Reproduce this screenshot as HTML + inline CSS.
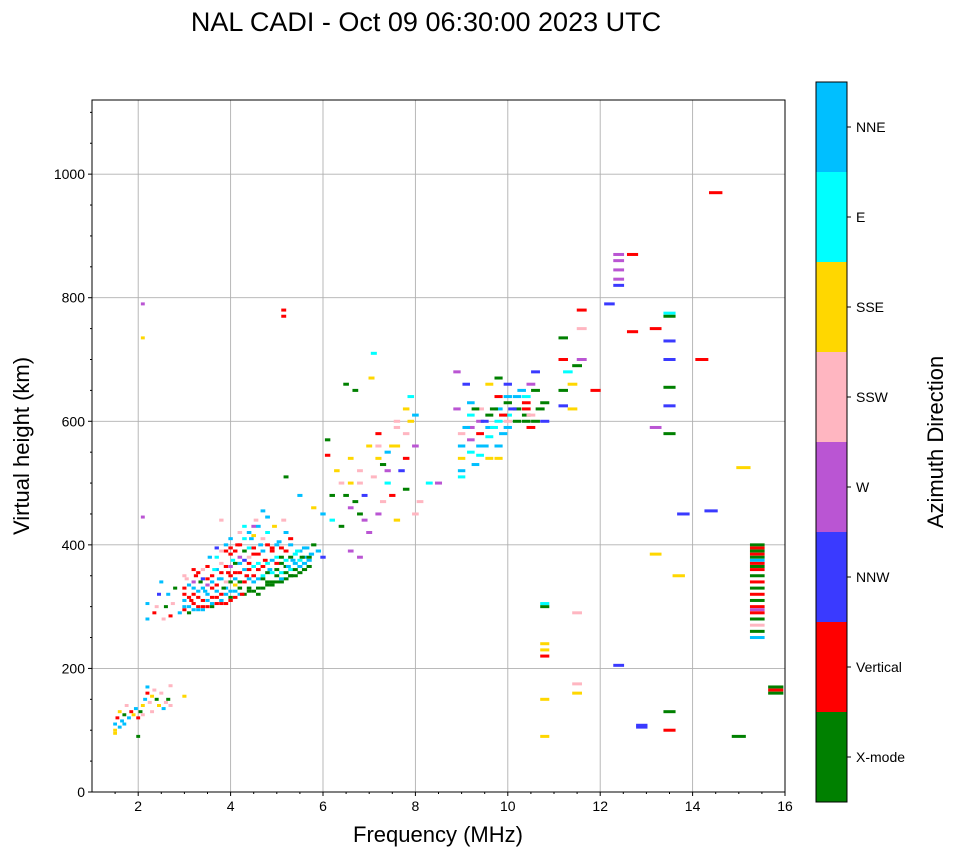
<!DOCTYPE html>
<html><head><meta charset="utf-8"><style>
body{margin:0;background:#fff;font-family:"Liberation Sans",sans-serif;}
svg text{font-family:"Liberation Sans",sans-serif;}
</style></head><body>
<svg id="chart" width="958" height="857" xmlns="http://www.w3.org/2000/svg"></svg>
<script>
const xTicks=[2,4,6,8,10,12,14,16];
const yTicks=[0,200,400,600,800,1000];
const dirNames=["X-mode","Vertical","NNW","W","SSW","SSE","E","NNE"];
const dirColors=["#008000","#ff0000","#3a3aff","#ba55d3","#ffb6c1","#ffd700","#00ffff","#00bfff"];
const freqs=[1.5,1.5,1.55,1.6,1.65,1.7,1.75,1.8,1.85,1.9,1.95,2.0,2.05,2.1,2.15,2.2,2.2,2.25,2.3,2.35,2.4,2.45,2.5,2.55,2.6,2.65,2.7,1.5,1.6,2.0,1.7,2.3,2.1,3.0,2.7,
2.2,2.2,2.35,2.4,2.45,2.5,2.55,2.6,2.65,2.7,2.75,2.8,2.9,3.0,3.0,3.05,3.1,3.15,3.2,3.25,3.3,3.3,3.35,3.4,3.4,3.45,3.5,3.5,3.55,3.6,3.6,3.65,3.7,3.7,3.75,3.8,3.8,3.85,3.9,3.9,3.95,4.0,4.0,4.0,4.05,4.1,4.1,4.15,4.2,4.2,4.25,4.3,4.3,4.35,4.4,4.4,4.45,4.5,4.5,4.55,4.6,4.6,4.65,4.7,4.7,4.75,4.8,4.8,4.85,4.9,4.9,4.95,5.0,5.0,5.05,5.1,5.1,5.15,5.2,5.2,5.25,5.3,5.3,5.35,5.4,5.45,5.5,5.55,5.6,5.65,5.7,5.75,5.8,5.9,6.0,5.5,5.8,5.2,4.5,4.2,3.2,3.8,4.0,4.4,
6.0,6.1,6.1,6.2,6.2,6.3,6.4,6.4,6.5,6.5,6.6,6.6,6.7,6.7,6.8,6.8,6.9,6.9,7.0,7.0,7.05,7.1,7.1,7.2,7.2,7.3,7.3,7.4,7.5,7.5,7.6,7.6,7.7,7.8,7.8,7.9,7.9,8.0,8.0,8.0,8.1,8.3,8.5,
8.9,8.9,9.0,9.0,9.0,9.1,9.1,9.2,9.2,9.3,9.3,9.4,9.5,9.5,9.6,9.6,9.7,9.7,9.8,9.8,9.9,9.9,10.0,10.0,10.1,10.2,10.3,10.4,10.4,10.5,10.5,10.5,10.6,10.7,10.8,10.8,
11.2,11.2,11.2,11.2,11.3,11.4,11.4,11.5,11.6,11.6,11.6,11.9,12.2,12.4,12.4,12.4,12.4,12.4,12.7,12.7,13.2,13.2,13.5,13.5,13.5,13.5,13.5,13.5,13.5,14.2,14.5,14.4,13.8,15.1,13.2,13.7,12.4,12.9,12.9,13.5,13.5,15.0,15.8,15.8,15.8,10.8,10.8,10.8,10.8,10.8,10.8,10.8,11.5,11.5,11.5,2.1,2.1,2.1,5.15,5.15,
15.4,15.4,15.4,15.4,15.4,15.4,15.4,15.4,15.4,15.4,15.4,15.4,15.4,15.4,15.4,15.4,15.4,15.4,15.4,15.4,15.4];
const heights=[100,110,120,130,115,125,140,120,130,125,135,120,130,140,150,160,170,145,155,165,150,140,160,135,145,150,140,95,105,90,110,130,125,155,172,
280,305,290,300,320,340,280,300,320,285,305,330,290,300,320,345,290,310,330,350,295,315,340,300,360,325,310,345,380,300,330,360,315,395,345,305,370,330,320,390,355,310,340,410,375,325,355,400,340,370,320,390,430,350,330,370,410,340,385,440,320,360,400,345,455,375,335,420,360,390,340,430,350,370,405,345,380,440,355,390,365,350,410,375,360,390,365,380,370,395,380,385,400,390,380,480,460,510,430,420,360,440,395,395,
450,545,570,480,440,520,430,500,480,660,390,540,470,650,380,520,480,440,560,420,670,510,710,450,580,530,470,550,560,480,600,440,520,580,490,640,600,560,450,610,470,500,500,
680,620,540,520,510,590,660,570,550,620,530,580,560,600,660,540,620,590,670,560,610,580,640,600,620,600,650,630,600,660,590,610,680,620,600,630,
735,700,650,625,680,620,660,690,780,750,700,650,790,870,860,845,830,820,870,745,750,590,775,770,730,700,655,625,580,700,970,455,450,525,385,350,205,105,108,100,130,90,170,165,160,90,150,220,230,240,300,305,175,160,290,790,735,445,780,770,
400,395,390,385,380,375,370,365,360,350,340,330,320,310,300,295,290,280,270,260,250];
const dirs=[5,7,1,5,7,0,4,7,1,5,7,1,0,5,7,1,7,4,5,4,0,5,4,7,4,0,4,5,7,0,7,4,4,5,4,
7,7,1,4,2,7,4,0,7,1,4,0,7,7,1,4,0,1,7,1,7,1,0,1,4,7,7,1,7,0,1,6,1,2,7,1,4,0,7,1,1,1,0,7,6,7,1,1,0,7,1,0,6,1,0,1,7,7,1,4,0,1,7,0,7,1,0,6,7,1,0,5,0,1,7,7,0,4,0,1,7,0,1,7,0,6,7,0,7,7,0,7,0,7,2,7,5,0,3,4,1,4,1,6,
7,1,0,0,6,5,0,4,0,0,3,5,0,0,3,4,2,3,5,3,5,4,6,3,1,0,4,7,5,1,4,5,2,4,0,6,5,3,4,7,4,6,3,
3,3,5,7,6,7,2,3,6,0,7,1,7,2,5,5,0,6,0,7,1,7,7,4,2,0,7,1,0,3,1,4,2,0,2,0,
0,1,0,2,6,5,5,0,1,4,3,1,2,3,3,3,3,2,1,1,1,3,6,0,2,2,0,2,0,1,1,2,2,5,5,5,2,2,2,1,0,0,0,1,0,5,5,1,5,5,0,6,4,5,4,3,5,3,1,1,
0,1,0,1,0,7,1,0,1,0,1,0,1,0,1,3,1,0,4,0,7];
const freqs2=[3.0,3.0,3.0,3.0,3.1,3.1,3.1,3.2,3.2,3.2,3.2,3.3,3.3,3.3,3.4,3.4,3.4,3.4,3.5,3.5,3.5,3.5,3.6,3.6,3.6,3.6,3.7,3.7,3.7,3.7,3.7,3.8,3.8,3.8,3.8,3.8,3.9,3.9,3.9,3.9,3.9,4.0,4.0,4.0,4.0,4.0,4.1,4.1,4.1,4.1,4.1,4.2,4.2,4.2,4.2,4.2,4.3,4.3,4.3,4.3,4.3,4.4,4.4,4.4,4.4,4.4,4.5,4.5,4.5,4.5,4.5,4.6,4.6,4.6,4.6,4.6,4.7,4.7,4.7,4.7,4.7,4.8,4.8,4.8,4.8,4.8,4.9,4.9,4.9,4.9,5.0,5.0,5.0,5.0,5.1,5.1,5.1,5.1,5.2,5.2,5.2,5.2,5.3,5.3,5.3,5.3,5.4,5.4,5.4,5.5,5.5,5.5,5.6,5.6,5.6,5.7,5.7,
9.0,9.0,9.2,9.2,9.2,9.4,9.4,9.4,9.4,9.6,9.6,9.6,9.8,9.8,9.8,9.8,10.0,10.0,10.0,10.0,10.2,10.2,10.4,10.4,10.4,10.6,10.6,
7.2,7.2,7.4,7.4,7.6,7.6,7.8,7.8,6.6,6.6,6.8,6.8];
const heights2=[295,310,330,350,300,315,335,295,305,320,340,300,325,355,295,310,330,345,300,320,335,365,305,315,340,350,305,325,335,360,380,310,320,345,355,390,305,330,340,365,400,315,325,350,365,385,315,335,345,370,390,320,330,355,380,400,320,340,360,375,410,325,345,360,380,420,325,350,365,395,415,330,345,370,385,430,330,350,365,390,410,340,355,370,400,445,335,355,375,395,340,360,380,400,340,355,370,395,345,365,375,420,350,360,380,400,350,370,385,355,375,390,360,380,395,365,375,
560,580,590,610,630,545,560,600,620,575,590,610,540,600,620,640,590,610,630,660,620,640,610,620,640,600,650,
540,560,500,520,560,590,540,620,460,500,450,500];
const dirs2=[1,7,1,4,7,1,7,7,1,1,3,1,7,1,7,1,7,2,1,7,3,1,7,1,7,1,1,7,1,7,6,7,1,7,1,4,1,7,4,1,7,0,7,1,3,1,1,5,7,0,1,7,0,1,3,1,0,1,7,2,6,0,7,1,4,7,0,1,6,1,5,0,7,6,1,7,0,6,1,7,4,0,0,6,1,7,0,6,7,1,0,0,6,7,0,6,0,1,0,0,6,7,0,6,0,7,0,7,6,0,6,7,0,7,7,0,7,
7,4,3,6,7,6,7,3,4,6,7,0,5,6,7,1,7,6,0,2,0,7,0,1,6,0,0,
5,4,6,3,5,4,1,5,3,5,0,4];

const NS="http://www.w3.org/2000/svg";
const svg=document.getElementById('chart');
const L=92,R=785,T=100,B=792;
const xMin=1,xMax=16,yMin=0,yMax=1120;
function xs(v){return L+(v-xMin)/(xMax-xMin)*(R-L);}
function ys(v){return B-(v-yMin)/(yMax-yMin)*(B-T);}
function mk(tag,attrs,parent){const e=document.createElementNS(NS,tag);for(const k in attrs)e.setAttribute(k,attrs[k]);(parent||svg).appendChild(e);return e;}

const title=mk('text',{x:426,y:31,'text-anchor':'middle','font-size':27,fill:'#000'});
title.textContent='NAL CADI - Oct 09 06:30:00 2023 UTC';



const grid=mk('g',{});


xTicks.forEach(t=>{if(t<xMax)mk('line',{x1:xs(t),x2:xs(t),y1:T,y2:B,stroke:'#b0b0b0','stroke-width':0.9},grid);});
yTicks.forEach(t=>{if(t>yMin)mk('line',{x1:L,x2:R,y1:ys(t),y2:ys(t),stroke:'#b0b0b0','stroke-width':0.9},grid);});

const marks=mk('g',{});


function drawSet(F,H,D){
  for(let i=0;i<F.length;i++){
    const f=F[i];
    const wM=0.08+0.001*f*f;
    const r=mk('rect',{x:xs(f-wM/2),y:ys(H[i])-1.5,width:xs(f+wM/2)-xs(f-wM/2),height:3,fill:dirColors[D[i]]},marks);
    
    
  }
}
drawSet(freqs2,heights2,dirs2);
drawSet(freqs,heights,dirs);

const frame=mk('rect',{x:L,y:T,width:R-L,height:B-T,fill:'none',stroke:'#000','stroke-width':1});



const xa=mk('g',{});


for(let m=1.5;m<xMax;m+=0.5){if(m%2!==0)mk('line',{x1:xs(m),x2:xs(m),y1:B,y2:B+2,stroke:'#000'},xa);}
xTicks.forEach(t=>{mk('line',{x1:xs(t),x2:xs(t),y1:B,y2:B+4,stroke:'#000'},xa);const tx=mk('text',{x:xs(t),y:B+19,'text-anchor':'middle','font-size':14},xa);tx.textContent=t;});
const xl=mk('text',{x:438,y:842,'text-anchor':'middle','font-size':22});
xl.textContent='Frequency (MHz)';



const ya=mk('g',{});


for(let m=50;m<yMax;m+=50){if(m%200!==0)mk('line',{x1:L-2,x2:L,y1:ys(m),y2:ys(m),stroke:'#000'},ya);}
yTicks.forEach(t=>{mk('line',{x1:L-4,x2:L,y1:ys(t),y2:ys(t),stroke:'#000'},ya);const tx=mk('text',{x:L-7,y:ys(t)+5,'text-anchor':'end','font-size':14},ya);tx.textContent=t;});
const yl=mk('text',{x:29,y:446,'text-anchor':'middle','font-size':22,transform:'rotate(-90 29 446)'});
yl.textContent='Virtual height (km)';



const cb=mk('g',{});


const cT=82,cB=802,cL=816,cW=31,seg=(cB-cT)/dirNames.length;
dirNames.forEach((n,i)=>{
  const y0=cB-(i+1)*seg;
  const r=mk('rect',{x:cL,y:y0,width:cW,height:seg,fill:dirColors[i]},cb);
  
  
  mk('line',{x1:cL+cW,x2:cL+cW+4,y1:y0+seg/2,y2:y0+seg/2,stroke:'#000'},cb);
  const tx=mk('text',{x:cL+cW+9,y:y0+seg/2+5,'font-size':14},cb);tx.textContent=n;
});
mk('rect',{x:cL,y:cT,width:cW,height:cB-cT,fill:'none',stroke:'#000','stroke-width':1},cb);
const cl=mk('text',{x:943,y:442,'text-anchor':'middle','font-size':22,transform:'rotate(-90 943 442)'});
cl.textContent='Azimuth Direction';


</script>
</body></html>
